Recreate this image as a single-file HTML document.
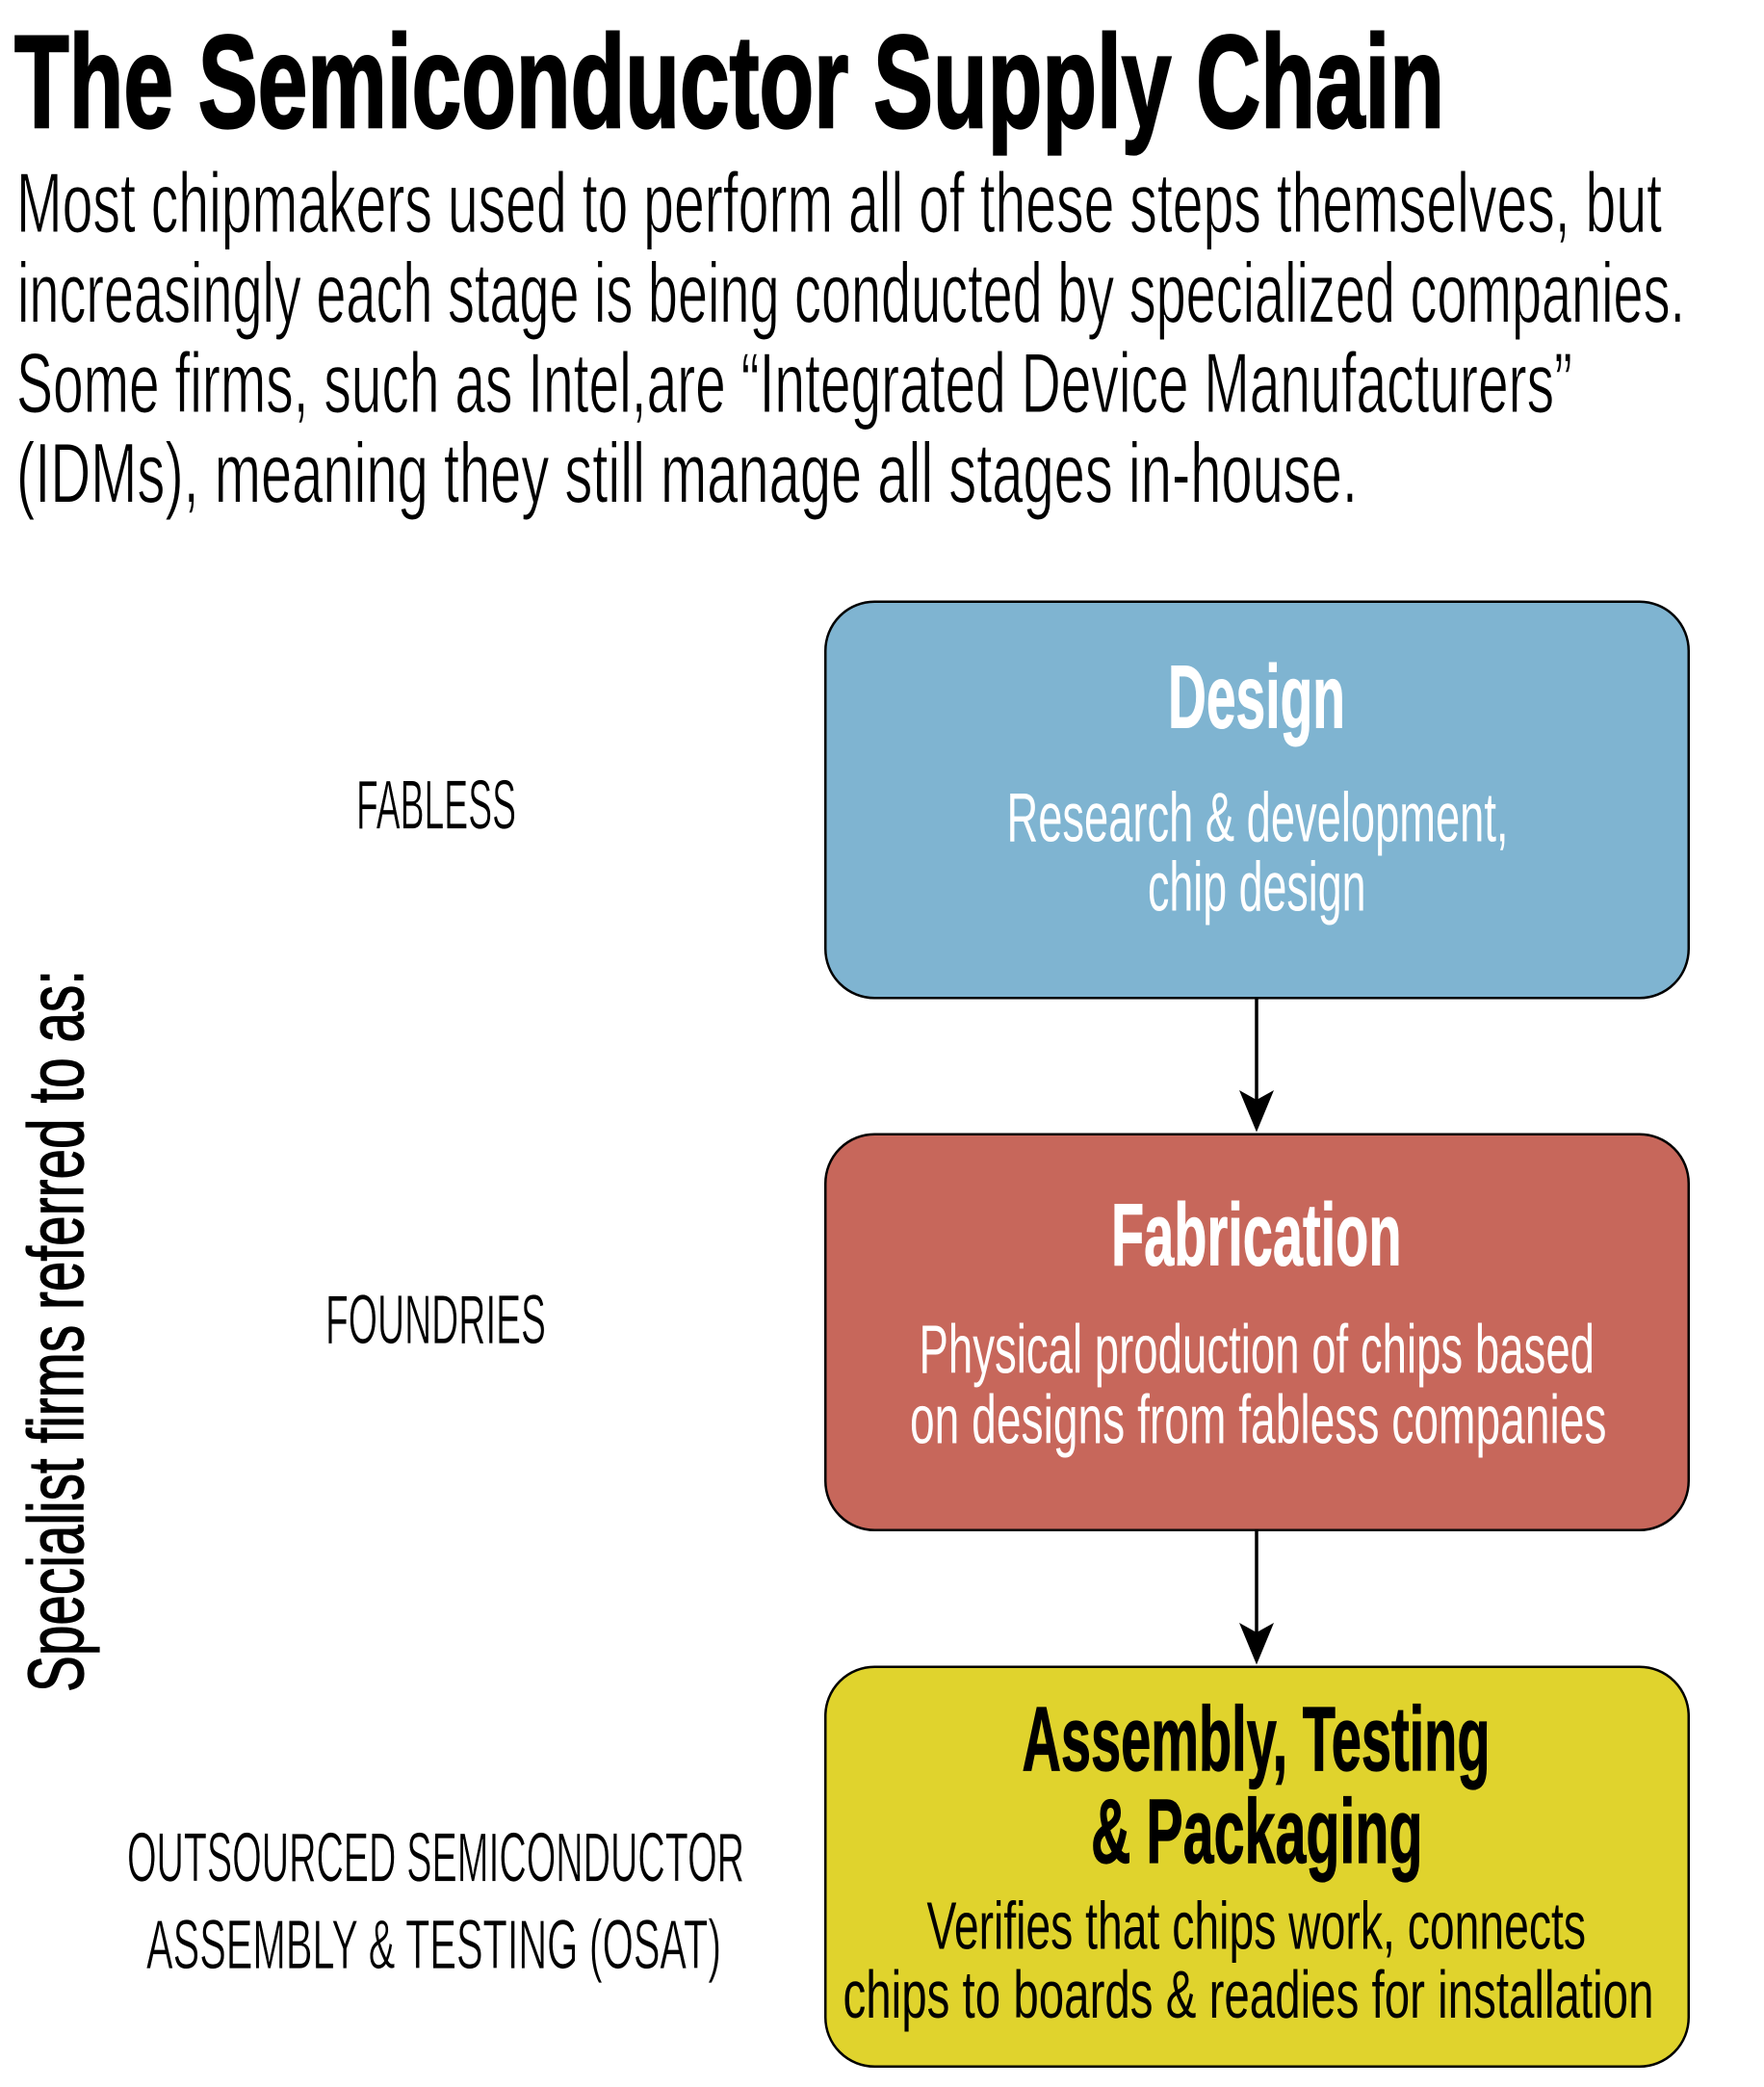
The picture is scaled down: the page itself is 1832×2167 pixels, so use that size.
<!DOCTYPE html>
<html>
<head>
<meta charset="utf-8">
<style>
  html, body { margin: 0; padding: 0; background: #ffffff; }
  svg { display: block; }
  text { font-family: "Liberation Sans", "DejaVu Sans", sans-serif; }
</style>
</head>
<body>
<svg width="1832" height="2167" viewBox="0 0 1832 2167" xmlns="http://www.w3.org/2000/svg">
  <rect x="0" y="0" width="1832" height="2167" fill="#ffffff"/>

  <!-- Title -->
  <text x="15" y="132" font-size="137" font-weight="bold" fill="#000" stroke="#000" stroke-width="2.5" textLength="1485" lengthAdjust="spacingAndGlyphs">The Semiconductor Supply Chain</text>

  <!-- Paragraph -->
  <g font-size="88" fill="#000" stroke="#fff" stroke-width="1.1">
    <text x="17" y="241" textLength="1709" lengthAdjust="spacingAndGlyphs">Most chipmakers used to perform all of these steps themselves, but</text>
    <text x="18" y="334.5" textLength="1732" lengthAdjust="spacingAndGlyphs">increasingly each stage is being conducted by specialized companies.</text>
    <text x="17" y="428" textLength="1616" lengthAdjust="spacingAndGlyphs">Some firms, such as Intel,are “Integrated Device Manufacturers”</text>
    <text x="17" y="521.5" textLength="1393" lengthAdjust="spacingAndGlyphs">(IDMs), meaning they still manage all stages in-house.</text>
  </g>

  <!-- Vertical label -->
  <text transform="translate(86,1757) rotate(-90)" x="0" y="0" font-size="82" fill="#000" stroke="#000" stroke-width="1.2" textLength="750" lengthAdjust="spacingAndGlyphs">Specialist firms referred to as:</text>

  <!-- Left labels -->
  <g font-size="72" fill="#000" stroke="#fff" stroke-width="0.8">
    <text x="370" y="860.5" textLength="166" lengthAdjust="spacingAndGlyphs">FABLESS</text>
    <text x="338" y="1395" textLength="229" lengthAdjust="spacingAndGlyphs">FOUNDRIES</text>
    <text x="132" y="1953.5" textLength="641" lengthAdjust="spacingAndGlyphs">OUTSOURCED SEMICONDUCTOR</text>
    <text x="152" y="2044" textLength="597" lengthAdjust="spacingAndGlyphs">ASSEMBLY &amp; TESTING (OSAT)</text>
  </g>

  <!-- Boxes -->
  <rect x="857.25" y="624.75" width="896.5" height="411.5" rx="51" ry="51" fill="#7fb4d1" stroke="#000" stroke-width="2.5"/>
  <rect x="857.25" y="1177.75" width="896.5" height="411" rx="51" ry="51" fill="#c7675b" stroke="#000" stroke-width="2.5"/>
  <rect x="857.25" y="1730.75" width="896.5" height="415" rx="51" ry="51" fill="#e0d32d" stroke="#000" stroke-width="2.5"/>

  <!-- Arrows -->
  <line x1="1305" y1="1037" x2="1305" y2="1142" stroke="#000" stroke-width="3.5"/>
  <polygon points="1287,1132 1305,1175.5 1323,1132 1305,1142" fill="#000"/>
  <line x1="1305" y1="1590" x2="1305" y2="1695" stroke="#000" stroke-width="3.5"/>
  <polygon points="1287,1685 1305,1728.5 1323,1685 1305,1695" fill="#000"/>

  <!-- Design box text -->
  <text x="1213" y="755.5" font-size="93" font-weight="bold" fill="#fff" stroke="#fff" stroke-width="1" textLength="184" lengthAdjust="spacingAndGlyphs">Design</text>
  <text x="1045.5" y="873.5" font-size="72" fill="#fff" textLength="521" lengthAdjust="spacingAndGlyphs">Research &amp; development,</text>
  <text x="1192" y="945.5" font-size="72" fill="#fff" textLength="226.5" lengthAdjust="spacingAndGlyphs">chip design</text>

  <!-- Fabrication box text -->
  <text x="1154" y="1313.5" font-size="92" font-weight="bold" fill="#fff" stroke="#fff" stroke-width="1" textLength="301.5" lengthAdjust="spacingAndGlyphs">Fabrication</text>
  <text x="954.5" y="1425.5" font-size="71" fill="#fff" textLength="701.5" lengthAdjust="spacingAndGlyphs">Physical production of chips based</text>
  <text x="945" y="1498.5" font-size="71" fill="#fff" textLength="723.5" lengthAdjust="spacingAndGlyphs">on designs from fabless companies</text>

  <!-- Assembly box text -->
  <text x="1061.5" y="1838" font-size="95" font-weight="bold" fill="#000" stroke="#000" stroke-width="1.2" textLength="486" lengthAdjust="spacingAndGlyphs">Assembly, Testing</text>
  <text x="1133" y="1934" font-size="95" font-weight="bold" fill="#000" stroke="#000" stroke-width="1.2" textLength="344.5" lengthAdjust="spacingAndGlyphs">&amp; Packaging</text>
  <text x="962.5" y="2023.5" font-size="70" fill="#000" textLength="684.5" lengthAdjust="spacingAndGlyphs">Verifies that chips work, connects</text>
  <text x="875.5" y="2095" font-size="70" fill="#000" textLength="842" lengthAdjust="spacingAndGlyphs">chips to boards &amp; readies for installation</text>
</svg>
</body>
</html>
